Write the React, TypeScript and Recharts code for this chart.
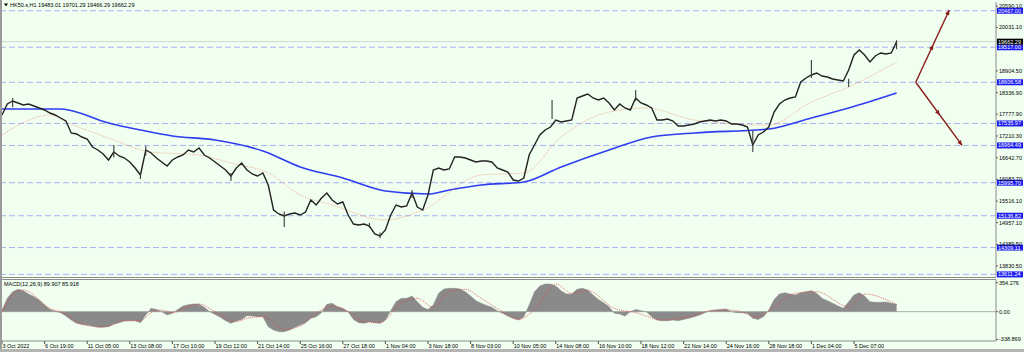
import React from 'react';
import { ComposedChart, Line, Area, XAxis, YAxis, ReferenceLine } from 'recharts';

const FONT = '"Liberation Sans", Arial, sans-serif';

// x-axis tick labels and their bar indices
const xTickLabels = ['3 Oct 2022', '6 Oct 19:00', '11 Oct 05:00', '13 Oct 08:00', '17 Oct 10:00', '19 Oct 12:00', '21 Oct 14:00', '25 Oct 16:00', '27 Oct 18:00', '1 Nov 04:00', '3 Nov 18:00', '8 Nov 03:00', '10 Nov 05:00', '14 Nov 08:00', '16 Nov 10:00', '18 Nov 12:00', '22 Nov 14:00', '24 Nov 16:00', '28 Nov 18:00', '1 Dec 04:00', '5 Dec 07:00'];
const xTickIdx = [0, 8, 16, 24, 32, 40, 48, 56, 64, 72, 80, 88, 96, 104, 112, 120, 128, 136, 144, 152, 160];

// price closes (HK50, H1 sampled)
const closes = [
  17756, 18042, 18120, 18068, 18016, 18042, 17990, 17938, 17886, 17808,
  17756, 17678, 17600, 17288, 17262, 17184, 17132, 16924, 16846, 16742,
  16586, 16794, 16690, 16638, 16534, 16378, 16196, 16846, 16768, 16638,
  16534, 16430, 16586, 16664, 16716, 16846, 16794, 16898, 16716, 16638,
  16534, 16430, 16326, 16170, 16378, 16508, 16326, 16222, 16170, 16248,
  15936, 15286, 15182, 15130, 15182, 15208, 15156, 15234, 15546, 15416,
  15598, 15728, 15546, 15442, 15494, 15156, 14922, 14896, 14922, 14870,
  14662, 14610, 14766, 15156, 15416, 15364, 15390, 15728, 15364, 15286,
  15676, 16326, 16378, 16326, 16352, 16664, 16664, 16638, 16586, 16534,
  16560, 16560, 16534, 16378, 16326, 16274, 16066, 16040, 16118, 16716,
  16976, 17236, 17366, 17444, 17626, 17574, 17600, 17626, 18198, 18250,
  18302, 18198, 18146, 18198, 18068, 17886, 18042, 17938, 17886, 18198,
  18068, 18016, 17938, 17626, 17626, 17652, 17600, 17470, 17470, 17496,
  17522, 17574, 17600, 17626, 17600, 17626, 17600, 17522, 17522, 17496,
  17444, 16976, 17236, 17314, 17444, 17834, 18042, 18146, 18198, 18224,
  18614, 18718, 18796, 18848, 18770, 18744, 18692, 18666, 18640, 18926,
  19316, 19446, 19316, 19134, 19290, 19368, 19342, 19368, 19662.29,
];

// notable bar wicks: index, high, low
const wickIdx = [2, 21, 26, 27, 43, 53, 69, 71, 77, 103.3, 119, 141, 152, 159, 168];
const wickHigh = [18200, 16976, 16250, 16950, 16250, 15250, 14950, 14700, 15806, 18146, 18406, 17340, 19186, 18700, 19701.29];
const wickLow = [17960, 16650, 16090, 16700, 16040, 14844, 14820, 14560, 15600, 17652, 18120, 16794, 18718, 18484, 19466.29];

// slow moving average (blue)
const slowIdx = [0, 11, 20, 26, 32, 40, 49, 56, 64, 72, 80, 84, 90, 98, 105, 114, 122, 130, 144, 152, 159, 168];
const slowVal = [17912, 17912, 17548, 17366, 17210, 17106, 16820, 16404, 16118, 15780, 15702, 15806, 15936, 16014, 16404, 16846, 17184, 17288, 17392, 17678, 17938, 18328];

// fast moving average (orange dotted)
const fastIdx = [0, 9, 12, 20, 28, 37, 43, 50, 56, 62, 72, 79, 90, 98, 105, 114, 121, 130, 144, 152, 159, 168];
const fastVal = [17236, 17756, 17574, 17158, 16794, 16716, 16508, 16248, 15676, 15416, 15026, 15286, 16196, 16248, 17184, 17834, 17938, 17626, 17496, 18094, 18484, 19134];

// MACD(12,26,9) main histogram
const macdHist = [
  20, 163, 244, 273, 256, 216, 183, 142, 81, 28,
  4, -12, -53, -102, -142, -155, -163, -175, -191, -191,
  -183, -151, -134, -114, -110, -110, -134, -41, 41, 28,
  0, -41, -20, 28, 69, 85, 94, 90, 53, 0,
  -33, -69, -110, -142, -114, -94, -49, -53, -61, -61,
  -183, -224, -244, -244, -224, -191, -163, -134, -81, -61,
  -12, 90, 102, 61, 41, 0, -94, -134, -142, -122,
  -134, -142, -102, 12, 122, 163, 163, 191, 122, 53,
  28, 81, 224, 277, 285, 285, 277, 244, 191, 134,
  102, 77, 53, 12, -20, -53, -81, -102, -61, 81,
  244, 313, 338, 338, 313, 256, 216, 216, 273, 285,
  264, 204, 150, 110, 61, -20, -28, -53, 0, 28,
  12, 0, -61, -102, -110, -110, -102, -110, -94, -81,
  -61, -41, -12, 12, 20, 28, 33, 0, -12, -12,
  -20, -81, -94, -61, 20, 150, 216, 232, 216, 204,
  232, 244, 256, 224, 163, 134, 102, 69, 41, 122,
  204, 232, 191, 122, 114, 114, 118, 102, 89.907,
];

// MACD signal (red dotted)
const sigIdx = [0, 3, 4, 9, 12, 14, 18, 20, 23, 26, 28, 30, 32, 35, 37, 40, 44, 46, 49, 53, 56, 59, 62, 65, 68, 71, 75, 78, 81, 84, 87, 90, 93, 97, 100, 104, 107, 110, 115, 119, 124, 129, 134, 137, 142, 145, 149, 153, 159, 162, 168];
const sigVal = [0, 256, 265, 41, -28, -122, -183, -175, -110, -110, -12, 20, -12, 61, 94, 0, -122, -81, -61, -216, -175, -20, 69, 0, -122, -134, 110, 163, 53, 244, 273, 163, 41, -94, 20, 338, 224, 256, 41, -12, -102, -61, 20, 20, -61, 61, 224, 244, 61, 216, 85.918];

// right axis price ticks
const priceTicks = [20590.1, 20031.1, 18904.5, 18336.9, 17777.9, 17210.3, 16642.7, 16083.7, 15516.1, 14957.1, 14389.5, 13830.5];
// horizontal support / resistance levels
const levels = [20467.0, 19517.0, 18606.58, 17535.97, 16964.49, 15995.7, 15136.82, 14309.11, 13611.24];
const lastPrice = 19662.29;
// projection arrows
const arrowStart = { x: 171.6, y: 18606.58 };
const arrowUpEnd = { x: 177.9, y: 20486 };
const arrowDownEnd = { x: 180.3, y: 16964.49 };

const macdTicks = [354.276, 0, -338.869];
const macdTickText = ['354.276', '0.00', '-338.869'];

const rows = closes.map((c, i) => ({ i, close: c, macd: macdHist[i], maSlow: null as number | null, maFast: null as number | null, signal: null as number | null }));
slowIdx.forEach((k, j) => { rows[k].maSlow = slowVal[j]; });
fastIdx.forEach((k, j) => { rows[k].maFast = fastVal[j]; });
sigIdx.forEach((k, j) => { rows[k].signal = sigVal[j]; });

const BG = '#F0FFF0';
const X_DOMAIN: [number, number] = [0, 186.67];

function BoxLabel(props: any) {
  const { viewBox, text, bg, fg } = props;
  if (!viewBox) return null;
  const x = viewBox.x + viewBox.width + 1;
  const y = viewBox.y;
  return (
    <g>
      <rect x={x} y={y - 3} width={26} height={6} fill={bg} />
      <text x={x + 1} y={y + 2} fontSize={5.5} fill={fg} fontFamily={FONT}>{text}</text>
    </g>
  );
}

function arrowHead(x: number, y: number, dx: number, dy: number, key: string) {
  const len = Math.sqrt(dx * dx + dy * dy) || 1;
  const ux = dx / len;
  const uy = dy / len;
  const s = 5;
  const w = 2.2;
  const bx = x - ux * s;
  const by = y - uy * s;
  const pts = `${x},${y} ${bx - uy * w},${by + ux * w} ${bx + uy * w},${by - ux * w}`;
  return <polygon key={key} points={pts} fill="#8B1A1A" />;
}

function ArrowShape(props: any) {
  const { x1, y1, x2, y2 } = props;
  if ([x1, y1, x2, y2].some((v) => v == null || isNaN(v))) return null;
  const dx = x2 - x1;
  const dy = y2 - y1;
  const mx = x1 + dx * 0.52;
  const my = y1 + dy * 0.52;
  return (
    <g>
      <line x1={x1} y1={y1} x2={x2} y2={y2} stroke="#8B1A1A" strokeWidth={1.4} />
      {arrowHead(mx, my, dx, dy, 'm')}
      {arrowHead(x2, y2, dx, dy, 'e')}
    </g>
  );
}

function WickShape(props: any) {
  const { x1, y1, x2, y2 } = props;
  if ([x1, y1, x2, y2].some((v) => v == null || isNaN(v))) return null;
  return <line x1={x1} y1={y1} x2={x2} y2={y2} stroke="#3a3a3a" strokeWidth={1.1} />;
}

function XTick(props: any) {
  const { x, y, payload } = props;
  const idx = xTickIdx.indexOf(payload.value);
  return (
    <text x={x + 0.5} y={y + 4} fontSize={5.5} fontFamily={FONT} fill="#000" textAnchor="start">
      {idx >= 0 ? xTickLabels[idx] : ''}
    </text>
  );
}

function PriceTick(props: any) {
  const { x, y, payload } = props;
  return (
    <text x={x} y={y + 2} fontSize={5.5} fontFamily={FONT} fill="#000" textAnchor="start">
      {Number(payload.value).toFixed(2)}
    </text>
  );
}

function MacdTick(props: any) {
  const { x, y, payload } = props;
  const idx = macdTicks.indexOf(payload.value);
  return (
    <text x={x} y={y + 2} fontSize={5.5} fontFamily={FONT} fill="#000" textAnchor="start">
      {idx >= 0 ? macdTickText[idx] : ''}
    </text>
  );
}

export default function App() {
  return (
    <div style={{ position: 'absolute', left: 0, top: 0, width: 1024, height: 352, background: BG, overflow: 'hidden' }}>
      <div style={{ position: 'absolute', left: 0, top: 0 }}>
        <ComposedChart width={1024} height={279} data={rows} margin={{ top: 2, right: 0, left: 2, bottom: 2 }}>
          <XAxis dataKey="i" type="number" domain={X_DOMAIN} hide allowDataOverflow />
          <YAxis
            orientation="right"
            width={28}
            domain={[13544, 20694]}
            allowDataOverflow
            ticks={priceTicks}
            interval={0}
            tick={<PriceTick />}
            tickSize={2}
            tickMargin={1}
            axisLine={{ stroke: '#8c8c8c' }}
            tickLine={{ stroke: '#606060' }}
          />
          {levels.map((v) => (
            <ReferenceLine
              key={v}
              y={v}
              stroke="#A9B2F2"
              strokeWidth={1}
              strokeDasharray="6 3"
              label={<BoxLabel text={v.toFixed(2)} bg="#1C1CF0" fg="#FFFFFF" />}
            />
          ))}
          <ReferenceLine y={lastPrice} stroke="#C9CEC9" strokeWidth={0.8} label={<BoxLabel text={lastPrice.toFixed(2)} bg="#000000" fg="#FFFFFF" />} />
          <Line dataKey="maSlow" type="monotone" stroke="#2F3CF2" strokeWidth={1.6} dot={false} connectNulls isAnimationActive={false} />
          <Line dataKey="maFast" type="monotone" stroke="#EE9A80" strokeWidth={0.8} strokeDasharray="1 1" dot={false} connectNulls isAnimationActive={false} />
          <Line dataKey="close" type="linear" stroke="#222222" strokeWidth={1.4} dot={false} isAnimationActive={false} />
          {wickIdx.map((k, j) => (
            <ReferenceLine key={`w${j}`} segment={[{ x: k, y: wickLow[j] }, { x: k, y: wickHigh[j] }]} shape={WickShape} />
          ))}
          <ReferenceLine segment={[arrowStart, arrowUpEnd]} shape={ArrowShape} />
          <ReferenceLine segment={[arrowStart, arrowDownEnd]} shape={ArrowShape} />
        </ComposedChart>
      </div>
      <div style={{ position: 'absolute', left: 0, top: 277, width: 996, height: 1, background: '#8c8c8c' }} />
      <div style={{ position: 'absolute', left: 0, top: 279, width: 996, height: 1, background: '#8c8c8c' }} />
      <div style={{ position: 'absolute', left: 0, top: 278 }}>
        <ComposedChart width={1024} height={74} data={rows} margin={{ top: 2, right: 0, left: 2, bottom: 0 }}>
          <XAxis
            dataKey="i"
            type="number"
            domain={X_DOMAIN}
            allowDataOverflow
            ticks={xTickIdx}
            interval={0}
            tick={<XTick />}
            tickSize={3}
            tickMargin={0}
            height={11}
            axisLine={{ stroke: '#8c8c8c' }}
            tickLine={{ stroke: '#505050' }}
          />
          <YAxis
            orientation="right"
            width={28}
            domain={[-358, 387]}
            allowDataOverflow
            ticks={macdTicks}
            interval={0}
            tick={<MacdTick />}
            tickSize={2}
            tickMargin={1}
            axisLine={{ stroke: '#8c8c8c' }}
            tickLine={{ stroke: '#606060' }}
          />
          <ReferenceLine y={0} stroke="#9a9a9a" strokeWidth={0.8} />
          <Area dataKey="macd" type="linear" baseValue={0} fill="#8A8A8A" fillOpacity={1} stroke="#8A8A8A" strokeWidth={0.5} isAnimationActive={false} />
          <Line dataKey="signal" type="monotone" stroke="#E04848" strokeWidth={0.8} strokeDasharray="1 1" dot={false} connectNulls isAnimationActive={false} />
        </ComposedChart>
      </div>
      <div style={{ position: 'absolute', left: 0, top: 0, width: 2, height: 352, background: '#9a9a9a' }} />
      <div style={{ position: 'absolute', left: 0, top: 349, width: 1024, height: 3, background: '#b4b4b4' }} />
      <svg width={1024} height={352} style={{ position: 'absolute', left: 0, top: 0, pointerEvents: 'none' }}>
        <polygon points="4,3.5 8,3.5 6,6.5" fill="#000" />
        <text x={10} y={7} fontSize={5.5} fontFamily={FONT} fill="#000">HK50.s,H1  19483.01 19701.29 19466.29 19662.29</text>
        <text x={4} y={285.5} fontSize={5.5} fontFamily={FONT} fill="#000">MACD(12,26,9) 89.907 85.918</text>
      </svg>
    </div>
  );
}
